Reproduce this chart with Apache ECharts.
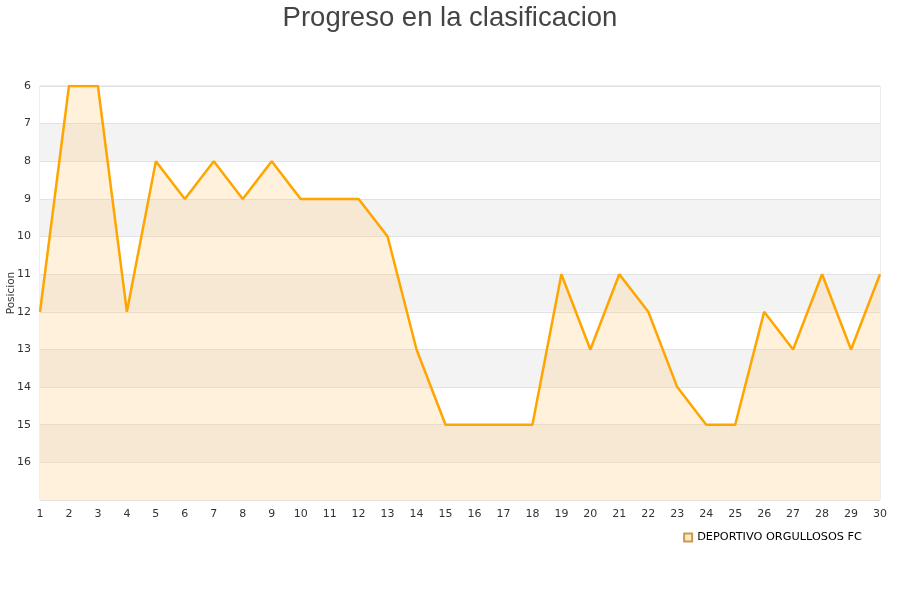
<!DOCTYPE html>
<html><head><meta charset="utf-8">
<script src="https://cdn.jsdelivr.net/npm/echarts@6.0.0/dist/echarts.min.js"></script>
<style>html,body{margin:0;padding:0;background:#fff}#chart{width:900px;height:600px}</style>
</head><body>
<div id="chart"></div>
<script>
// jornadas y posiciones
var jornadas = [];
for (var i = 1; i <= 30; i++) jornadas.push(String(i));
var posiciones = [12, 6, 6, 12, 8, 9, 8, 9, 8, 9, 9, 9, 10, 13, 15, 15, 15, 15, 11, 13, 11, 12, 14, 15, 15, 12, 13, 11, 13, 11];
var equipo = 'DEPORTIVO ORGULLOSOS FC';
var titulo = 'Progreso en la clasificacion';
var ejeY = 'Posicion';

var chart = echarts.init(document.getElementById('chart'));
chart.setOption({
  animation: false,
  title: {
    text: titulo, left: 'center', top: -1,
    textStyle: {fontFamily: 'Liberation Sans', fontSize: 27.5, fontWeight: 'normal', color: '#444'}
  },
  legend: {
    data: [equipo], right: 33, top: 527, itemWidth: 8, itemHeight: 8, itemGap: 4,
    icon: 'rect',
    textStyle: {fontFamily: 'DejaVu Sans', fontSize: 11.3, color: '#000'}
  },
  graphic: [{
    type: 'text', rotation: Math.PI / 2, x: 11, y: 293,
    style: {text: ejeY, fontFamily: 'DejaVu Sans', fontSize: 10.5, fill: '#333', align: 'center', verticalAlign: 'middle'}
  }],
  grid: {left: 40, right: 20, top: 86, bottom: 100, outerBoundsMode: 'none', containLabel: false,
    show: true, borderColor: '#dcdcdc', borderWidth: 1},
  xAxis: {
    type: 'category', data: jornadas, boundaryGap: false,
    axisLine: {show: false}, axisTick: {show: false},
    axisLabel: {fontFamily: 'DejaVu Sans', fontSize: 11, color: '#333', margin: 9},
    splitLine: {show: false}
  },
  yAxis: {
    type: 'value', inverse: true, min: 6, max: 17, interval: 1,
    axisLine: {show: false}, axisTick: {show: false},
    axisLabel: {
      fontFamily: 'DejaVu Sans', fontSize: 11, color: '#333', margin: 9,
      formatter: function (v) { return v === 17 ? '' : String(v); }
    },
    splitLine: {show: true, lineStyle: {color: '#e2e2e2'}},
    splitArea: {show: true, areaStyle: {color: ['#ffffff', '#f3f3f3']}}
  },
  series: [{
    name: equipo, type: 'line', data: posiciones,
    symbol: 'none', smooth: false,
    lineStyle: {color: '#ffa500', width: 2.5},
    itemStyle: {color: '#ffe8bf', borderColor: '#c89a50', borderWidth: 1},
    areaStyle: {color: 'rgba(255,200,110,0.36)', origin: 'end'}
  }]
});
</script>
</body></html>
